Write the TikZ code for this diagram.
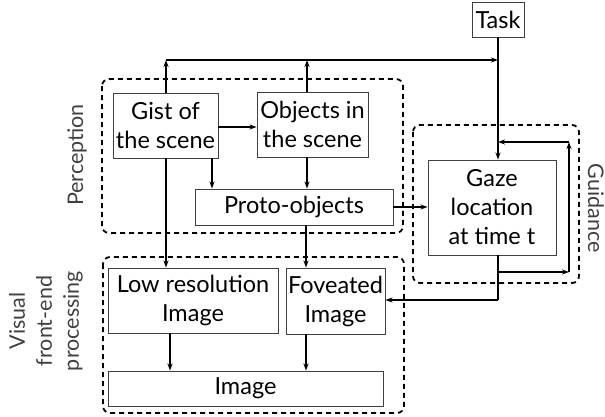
\documentclass[tikz,border=0pt]{standalone}
\usepackage{fontspec}
\setmainfont{Lato}
\usetikzlibrary{arrows.meta}
\begin{document}
\begin{tikzpicture}[x=1pt,y=-1pt,
  box/.style={draw=black!75, line width=0.9pt, inner sep=0pt, align=center,
    font=\fontsize{23.5}{29}\selectfont},
  group/.style={draw, line width=1.8pt, dash pattern=on 5pt off 4pt, rounded corners=7pt},
  grouplabel/.style={text=black!75, align=center, font=\fontsize{21.5}{27}\selectfont},
  conn/.style={line width=1.3pt, -{Stealth[length=7pt,width=5pt]}},
  plain/.style={line width=1.3pt}]
\useasboundingbox (0,0) rectangle (605,416);

% dashed groups
\draw[group] (102,79) rectangle (403,233);
\draw[group] (413,125) rectangle (579,283);
\draw[group] (103,257) rectangle (404,413);

% group labels
\node[grouplabel, rotate=90] (perc) at (77,155) {Perception};
\node[grouplabel, rotate=-90] (guid) at (596,208) {Guidance};
\node[grouplabel, rotate=90] (vis) at (46,321) {Visual\\front-end\\processing};

% boxes
\node[box, minimum width=52pt, minimum height=35pt] (task) at (498,19.5) {Task};
\node[box, minimum width=105pt, minimum height=65pt] (gist) at (165.5,125.5) {Gist of\\the scene};
\node[box, minimum width=111pt, minimum height=65pt] (obj) at (312.5,124.5) {Objects in\\the scene};
\node[box, minimum width=198pt, minimum height=36pt] (proto) at (294,207) {Proto-objects};
\node[box, minimum width=128pt, minimum height=95pt] (gaze) at (492,207.5) {Gaze\\location\\at time t};
\node[box, minimum width=170pt, minimum height=65pt] (low) at (193,300.5) {Low resolution\\Image};
\node[box, minimum width=99pt, minimum height=66pt] (fov) at (335.5,301) {Foveated\\Image};
\node[box, minimum width=275pt, minimum height=35pt] (img) at (245.5,388.5) {Image};

% routing points
\coordinate (topL) at (166,60);
\coordinate (topM) at (307,60);
\coordinate (topR) at (498,60);
\coordinate (loopA) at (498,272);
\coordinate (loopB) at (569,272);
\coordinate (loopC) at (569,142);
\coordinate (loopD) at (498,142);
\coordinate (fovIn) at (498,300);

% connectors
\draw[conn] (low.south -| 170,0) -- (img.north -| 170,0);
\draw[conn] (fov.south -| 306,0) -- (img.north -| 306,0);
\draw[conn] (gist.south -| 166,0) -- (low.north -| 166,0);
\draw[conn] (gist.south -| 212,0) -- (proto.north -| 212,0);
\draw[conn] (obj.south -| 307,0) -- (proto.north -| 307,0);
\draw[conn] (proto.south -| 306,0) -- (fov.north -| 306,0);
\draw[conn] (gist.east |- 0,127) -- (obj.west |- 0,127);
\draw[conn] (proto.east |- 0,207) -- (gaze.west |- 0,207);
\draw[conn] (gist.north -| topL) -- (topL);
\draw[conn] (obj.north -| topM) -- (topM);
\draw[conn] (topL) -- (topR);
\draw[conn] (task.south) -- (gaze.north -| task.south);
% feedback loop around gaze
\draw[plain] (gaze.south -| loopA) -- (fovIn);
\draw[conn] (fovIn) -- (fov.east |- fovIn);
\draw[conn] (loopA) -- (loopB);
\draw[conn] (loopB) -- (loopC);
\draw[conn] (loopC) -- (loopD);
\end{tikzpicture}
\end{document}
